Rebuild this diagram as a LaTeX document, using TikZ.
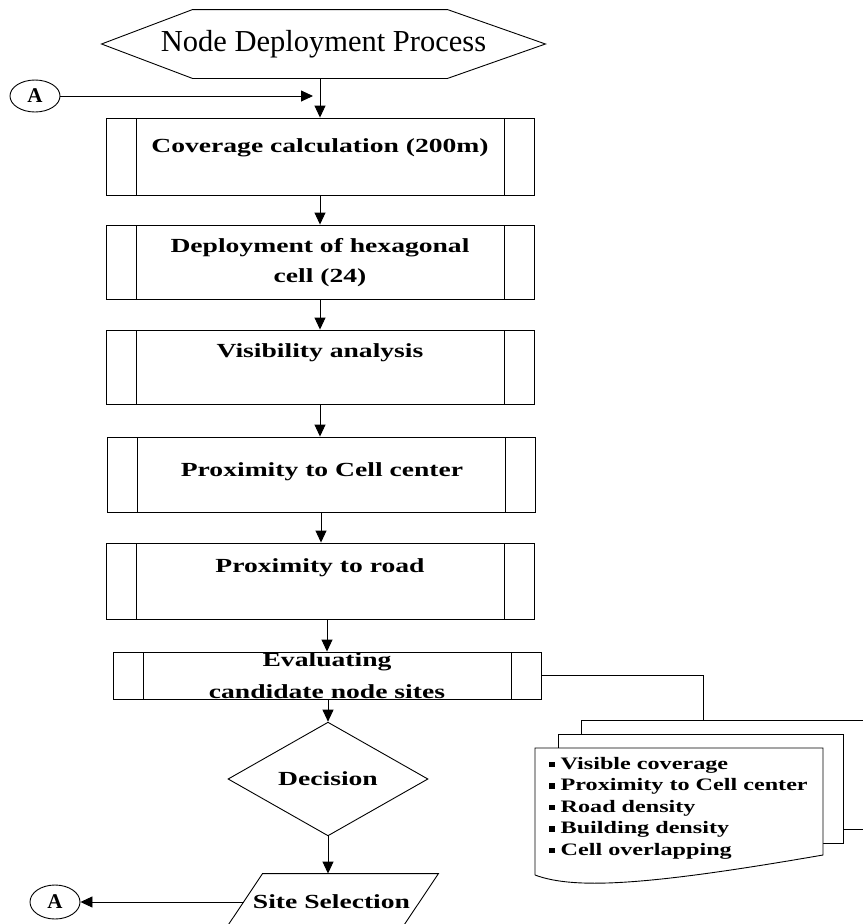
\documentclass[tikz,border=0pt]{standalone}
\usepackage{fontspec}
\setmainfont{Liberation Serif}
\newfontfamily\boxfont[FakeStretch=1.38]{Liberation Serif}
\usetikzlibrary{arrows.meta,shapes.geometric}

\newcommand{\sqbul}{\rule[0.25ex]{0.3em}{0.3em}\hspace{6pt}}

\tikzset{
  flow/.style={-{Triangle[length=12pt,width=11pt]}},
  process/.style={draw, minimum width=428pt, inner sep=0pt,
    path picture={
      \draw ([xshift=30pt]path picture bounding box.north west) -- ([xshift=30pt]path picture bounding box.south west);
      \draw ([xshift=-30pt]path picture bounding box.north east) -- ([xshift=-30pt]path picture bounding box.south east);
    }},
  boxtext/.style={align=center, inner sep=0pt, font=\boxfont\bfseries\fontsize{20}{30}\selectfont},
  connector/.style={draw, ellipse, minimum width=50pt, minimum height=32pt, inner sep=0pt,
    font=\bfseries\fontsize{21}{24}\selectfont}
}

\begin{document}
\begin{tikzpicture}[x=1pt, y=-1pt, line width=0.9pt]
  \useasboundingbox (0,0) rectangle (863,924);

  % start of the process
  \node[minimum width=443pt, minimum height=68pt, inner sep=0pt,
        font=\fontsize{30.5}{36}\selectfont] (start) at (323.5,44) {Node Deployment Process};
  \draw (start.west) -- ([xshift=91pt]start.north west) -- ([xshift=-98pt]start.north east)
    -- (start.east) -- ([xshift=-98pt]start.south east) -- ([xshift=91pt]start.south west) -- cycle;
  \node[connector] (atop) at (35,96) {A};

  % predefined steps
  \node[process, minimum height=77pt] (cov)  at (320,156.5) {};
  \node[process, minimum height=74pt] (hexc) at (320,262) {};
  \node[process, minimum height=74pt] (vis)  at (320,367) {};
  \node[process, minimum height=75pt] (prox) at (321,474.5) {};
  \node[process, minimum height=76pt] (road) at (320.5,581) {};
  \node[process, minimum height=47pt] (eval) at (327,675.5) {};

  \node[boxtext] (cov-t)  at (320,148) {Coverage calculation (200m)};
  \node[boxtext] (hexc-t) at (320,263) {Deployment of hexagonal\\cell (24)};
  \node[boxtext] (vis-t)  at (320,353) {Visibility analysis};
  \node[boxtext] (prox-t) at (322,472) {Proximity to Cell center};
  \node[boxtext] (road-t) at (320,568) {Proximity to road};
  \node[boxtext, font=\boxfont\bfseries\fontsize{20}{32}\selectfont] (eval-t) at (327,676) {Evaluating\\candidate node sites};

  % decision and selection
  \node[draw, diamond, minimum width=200pt, minimum height=82pt, inner sep=0pt,
        font=\boxfont\bfseries\fontsize{20}{24}\selectfont] (dec) at (328,779) {Decision};
  \node[minimum width=213pt, minimum height=56pt, inner sep=0pt,
        font=\boxfont\bfseries\fontsize{20}{24}\selectfont] (sel) at (331.5,902) {Site Selection};
  \draw ([xshift=38pt]sel.north west) -- (sel.north east) -- ([xshift=-38pt]sel.south east)
    -- (sel.south west) -- cycle;
  \node[connector, minimum height=34pt] (abot) at (55,902) {A};

  % criteria sheets
  \coordinate (backtop) at (703,720);
  \draw (581,734) -- (581,720) -- (863,720);
  \draw (843,829) -- (863,829);
  \draw[fill=white] (558,748) -- (558,734) -- (843,734) -- (843,843) -- (823,843);
  \draw[fill=white] (535,875) -- (535,748) -- (823,748) -- (823,855)
    .. controls (650,885) and (575,890) .. (535,875);
  \node[anchor=west, align=left, inner sep=0pt,
        font=\boxfont\bfseries\fontsize{17.5}{21.5}\selectfont] (crit) at (549,808)
    {\sqbul Visible coverage\\ \sqbul Proximity to Cell center\\ \sqbul Road density\\
     \sqbul Building density\\ \sqbul Cell overlapping};

  % connectors
  \draw[flow] (cov.north |- start.south) -- (cov.north);
  \draw[flow, shorten >=7pt] (atop.east) -- (atop -| cov.north);
  \draw[flow] (cov) -- (hexc);
  \draw[flow] (hexc) -- (vis);
  \draw[flow] (vis.south) -- (vis.south |- prox.north);
  \draw[flow] (prox.south) -- (prox.south |- road.north);
  \draw[flow] (eval.north |- road.south) -- (eval.north);
  \draw[flow] (eval.south -| dec.north) -- (dec.north);
  \draw[flow] (dec.south) -- (dec.south |- sel.north);
  \draw[flow] ([xshift=19pt]sel.west) -- (sel.west -| abot.east);
  \draw (eval.east) -| (backtop);
\end{tikzpicture}
\end{document}
